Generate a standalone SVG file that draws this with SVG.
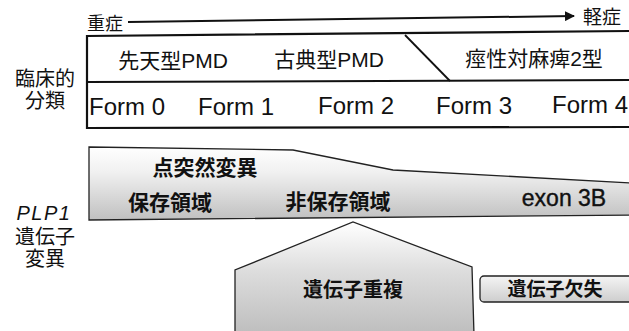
<svg xmlns="http://www.w3.org/2000/svg" width="629" height="331" viewBox="0 0 629 331">
<style>
  .jp { font-family: "Liberation Sans", "Noto Sans CJK JP", sans-serif; fill: #111; }
  .lat { font-family: "Liberation Sans", Arial, sans-serif; fill: #111; }
  .b { font-weight: bold; }
  .edge { fill: none; stroke: #111; stroke-width: 2; }
  .shape { stroke: #222; stroke-width: 1.3; }
</style>
<defs>
  <marker id="ah" viewBox="0 0 10 10" refX="9" refY="5" markerWidth="5" markerHeight="5" orient="auto" markerUnits="strokeWidth">
    <path d="M0,0 L10,5 L0,10 Z" fill="#111"/>
  </marker>
  <linearGradient id="g1" x1="0" y1="0" x2="0" y2="1">
    <stop offset="0" stop-color="#ffffff"/>
    <stop offset="0.35" stop-color="#f0f0f0"/>
    <stop offset="1" stop-color="#c0c0c0"/>
  </linearGradient>
  <linearGradient id="g2" x1="0" y1="0" x2="0" y2="1">
    <stop offset="0" stop-color="#ffffff"/>
    <stop offset="0.45" stop-color="#dcdcdc"/>
    <stop offset="1" stop-color="#bdbdbd"/>
  </linearGradient>
  <linearGradient id="g3" x1="0" y1="0" x2="0" y2="1">
    <stop offset="0" stop-color="#f4f4f4"/>
    <stop offset="1" stop-color="#cdcdcd"/>
  </linearGradient>
</defs>
<rect width="629" height="331" fill="#fff"/>

<g id="connectors">
  <line class="edge" x1="128" y1="22" x2="574" y2="16" marker-end="url(#ah)"/>
</g>

<g id="severity-labels">
  <text class="jp" x="87" y="30" font-size="18">重症</text>
  <text class="jp" x="583" y="24" font-size="19">軽症</text>
</g>

<g id="clinical-label">
  <text class="jp" x="45" y="86" font-size="20" text-anchor="middle">臨床的</text>
  <text class="jp" x="45" y="108" font-size="20" text-anchor="middle">分類</text>
</g>

<g id="clinical-box">
  <path d="M631,31 L87,36 L87,128 L631,127" fill="none" stroke="#111" stroke-width="2.2"/>
  <line x1="87" y1="82" x2="631" y2="80" stroke="#111" stroke-width="2"/>
  <line x1="405" y1="35" x2="450" y2="81" stroke="#111" stroke-width="1.8"/>
</g>

<g id="type-row">
  <text class="jp" x="173" y="68" font-size="21" text-anchor="middle">先天型PMD</text>
  <text class="jp" x="329" y="67" font-size="21" text-anchor="middle">古典型PMD</text>
  <text class="jp" x="534" y="66" font-size="21" text-anchor="middle">痙性対麻痺2型</text>
</g>

<g id="form-row">
  <text class="lat" x="89" y="115" font-size="24">Form 0</text>
  <text class="lat" x="198" y="115" font-size="24">Form 1</text>
  <text class="lat" x="318" y="114" font-size="24">Form 2</text>
  <text class="lat" x="436" y="114" font-size="24">Form 3</text>
  <text class="lat" x="552" y="113" font-size="24">Form 4</text>
</g>

<g id="plp1-label">
  <text class="lat" x="44" y="220" font-size="20" font-style="italic" text-anchor="middle" letter-spacing="1.5">PLP1</text>
  <text class="jp" x="45" y="244" font-size="20" text-anchor="middle">遺伝子</text>
  <text class="jp" x="45" y="266" font-size="20" text-anchor="middle">変異</text>
</g>

<g id="point-mutation">
  <path class="shape" d="M89,147 L293,150 L393,170 L633,183 L633,215 L89,220 Z" fill="url(#g1)"/>
  <text class="jp b" x="205" y="175" font-size="21" text-anchor="middle">点突然変異</text>
  <text class="jp b" x="170" y="210" font-size="21" text-anchor="middle">保存領域</text>
  <text class="jp b" x="338" y="209" font-size="21" text-anchor="middle">非保存領域</text>
  <text class="lat" x="564" y="206" font-size="23" text-anchor="middle" stroke="#111" stroke-width="0.4">exon 3B</text>
</g>

<g id="duplication">
  <path class="shape" d="M235,335 L235,270 L353,222 L472,267 L474,335" fill="url(#g2)"/>
  <text class="jp b" x="353" y="297" font-size="20" text-anchor="middle">遺伝子重複</text>
</g>

<g id="deletion">
  <rect class="shape" x="480" y="276" width="170" height="26" rx="4" fill="url(#g3)" stroke-width="1.8"/>
  <text class="jp b" x="555" y="296" font-size="19" text-anchor="middle">遺伝子欠失</text>
</g>
</svg>
